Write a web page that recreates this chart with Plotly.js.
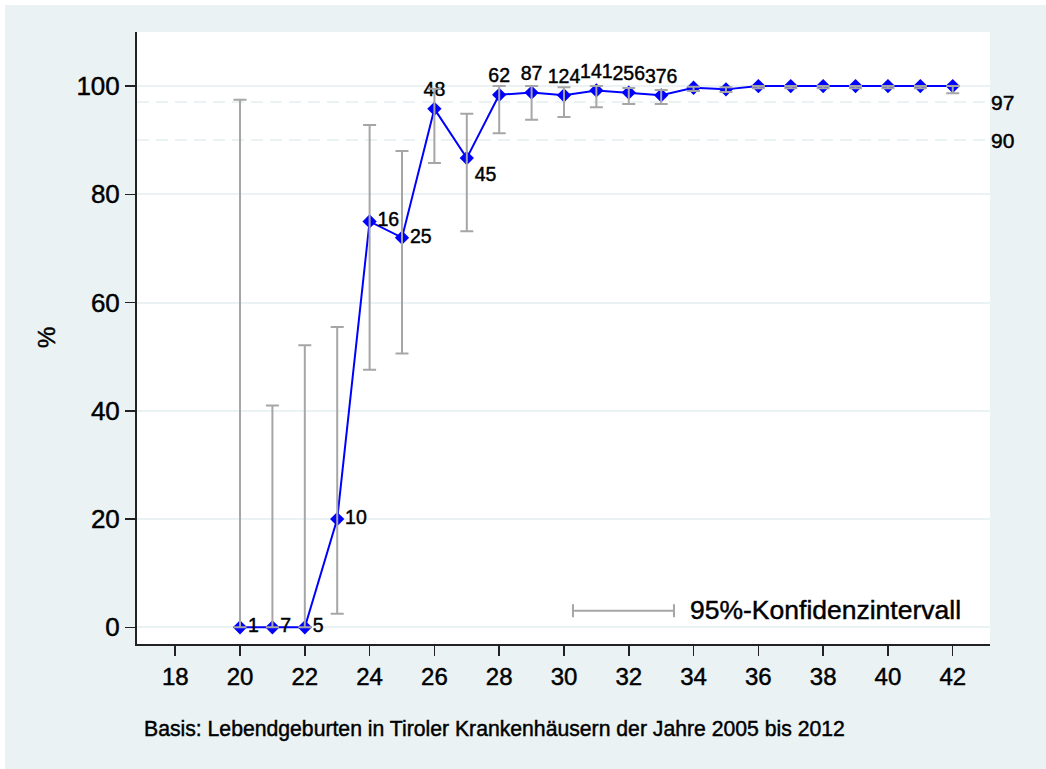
<!DOCTYPE html>
<html>
<head>
<meta charset="utf-8">
<script src="https://cdn.plot.ly/plotly-3.0.1.min.js"></script>
<style>
  html, body { margin: 0; padding: 0; background: #ffffff; }
  #chart { position: absolute; left: 5px; top: 5px; width: 1041px; height: 764px; }
  #chart svg text { stroke: #000000; stroke-width: 0.45px; }
</style>
</head>
<body>
<div id="chart"></div>
<script>
// Gestationswoche
const weeks = [20, 21, 22, 23, 24, 25, 26, 27, 28, 29, 30, 31, 32, 33, 34, 35, 36, 37, 38, 39, 40, 41, 42];
// Anteil in %
const percent = [0, 0, 0, 20, 75, 72, 95.8, 86.7, 98.4, 98.8, 98.3, 99.2, 98.8, 98.3, 99.7, 99.4, 100, 100, 100, 100, 100, 100, 100];
// 95%-Konfidenzintervall
const ciLow = [0, 0, 0, 2.5, 47.6, 50.6, 85.8, 73.2, 91.3, 93.8, 94.3, 96.1, 96.7, 96.7, 99.1, 98.9, 99.6, 99.6, 99.6, 99.6, 99.6, 99.6, 98.7];
const ciHigh = [97.5, 41.0, 52.1, 55.5, 92.8, 88.0, 99.5, 94.9, 100, 100, 99.8, 100, 99.65, 99.3, 99.9, 99.8, 100, 100, 100, 100, 100, 100, 100];
// Fallzahlen (Beschriftung)
const nLabels = ["1", "7", "5", "10", "16", "25", "48", "45", "62", "87", "124", "141", "256", "376", "", "", "", "", "", "", "", "", ""];
const labelPos = ["middle right", "middle right", "middle right", "middle right", "middle right", "middle right",
  "top center", "bottom right", "top center", "top center", "top center", "top center", "top center", "top center",
  "top center", "top center", "top center", "top center", "top center", "top center", "top center", "top center", "top center"];
const yTicks = [0, 20, 40, 60, 80, 100];
const xTicks = [18, 20, 22, 24, 26, 28, 30, 32, 34, 36, 38, 40, 42];
const refLines = [90, 97];
const legendText = "95%-Konfidenzintervall";
const yTitle = "%";
const note = "Basis: Lebendgeburten in Tiroler Krankenhäusern der Jahre 2005 bis 2012";

const FONT = "Liberation Sans, Arial, sans-serif";
const BG = "#eaf2f3";
const GRAY = "#a6a6a6";
const BLUE = "#0000ff";

const plus = percent.map((v, i) => ciHigh[i] - v);
const minus = percent.map((v, i) => v - ciLow[i]);

const yRange = [-3.08, 110.0];

const traces = [
  {
    x: weeks, y: percent, type: "scatter", mode: "lines+markers+text",
    line: { color: BLUE, width: 2 },
    marker: { symbol: "diamond", size: 11, color: BLUE },
    text: nLabels, textposition: labelPos,
    textfont: { family: FONT, size: 19.5, color: "#000000" },
    showlegend: false, hoverinfo: "x+y", cliponaxis: false
  },
  {
    x: weeks, y: percent, type: "scatter", mode: "markers",
    marker: { size: 1, color: "rgba(0,0,0,0)" },
    error_y: { type: "data", symmetric: false, array: plus, arrayminus: minus,
               color: GRAY, thickness: 2, width: 6.5 },
    showlegend: false, hoverinfo: "skip", cliponaxis: false
  },
  { x: [], y: [], yaxis: "y2", type: "scatter", mode: "markers", showlegend: false, hoverinfo: "skip" }
];

const layout = {
  width: 1041, height: 764,
  paper_bgcolor: BG, plot_bgcolor: "#ffffff",
  margin: { l: 132, r: 56, t: 27, b: 125 },
  font: { family: FONT, color: "#000000" },
  showlegend: false,
  xaxis: {
    range: [16.82, 43.15], tickmode: "array", tickvals: xTicks, ticktext: xTicks.map(String),
    ticks: "outside", ticklen: 10, tickwidth: 1.5, tickcolor: "#222222",
    showline: true, linecolor: "#222222", linewidth: 2,
    showgrid: false, zeroline: false,
    tickfont: { family: FONT, size: 24, color: "#000000" }
  },
  yaxis: {
    range: yRange, tickmode: "array", tickvals: yTicks, ticktext: yTicks.map(String),
    ticks: "outside", ticklen: 10, tickwidth: 1.5, tickcolor: "#222222",
    showline: true, linecolor: "#222222", linewidth: 2,
    showgrid: true, gridcolor: BG, gridwidth: 2, zeroline: false,
    tickfont: { family: FONT, size: 26, color: "#000000" }
  },
  yaxis2: {
    range: yRange, overlaying: "y", side: "right",
    tickmode: "array", tickvals: refLines, ticktext: refLines.map(String),
    ticks: "", showline: false, zeroline: false,
    showgrid: true, gridcolor: BG, gridwidth: 2, griddash: "12px,7px",
    tickfont: { family: FONT, size: 21, color: "#000000" }
  },
  shapes: [
    { type: "rect", xref: "paper", yref: "paper", x0: 0.4982, x1: 0.9906, y0: 0.0065, y1: 0.0964,
      fillcolor: "#ffffff", line: { width: 0 }, layer: "between" },
    { type: "line", xref: "paper", yref: "paper", x0: 0.5111, x1: 0.6295, y0: 0.0543, y1: 0.0543,
      line: { color: GRAY, width: 2 }, layer: "above" },
    { type: "line", xref: "paper", yref: "paper", x0: 0.5111, x1: 0.5111, y0: 0.0437, y1: 0.0650,
      line: { color: GRAY, width: 2 }, layer: "above" },
    { type: "line", xref: "paper", yref: "paper", x0: 0.6295, x1: 0.6295, y0: 0.0437, y1: 0.0650,
      line: { color: GRAY, width: 2 }, layer: "above" }
  ],
  annotations: [
    { text: legendText, xref: "paper", yref: "paper", x: 0.6460, y: 0.0555,
      xanchor: "left", yanchor: "middle", showarrow: false,
      font: { family: FONT, size: 26.5, color: "#000000" } },
    { text: yTitle, xref: "paper", yref: "paper", x: -0.1067, y: 0.5016,
      xanchor: "center", yanchor: "middle", showarrow: false, textangle: -90,
      font: { family: FONT, size: 24, color: "#000000" } },
    { text: note, xref: "paper", yref: "paper", x: 0.0059, y: -0.1389,
      xanchor: "left", yanchor: "middle", showarrow: false,
      font: { family: FONT, size: 21.2, color: "#000000" } }
  ]
};

Plotly.newPlot("chart", traces, layout, { displayModeBar: false, staticPlot: true });
</script>
</body>
</html>
